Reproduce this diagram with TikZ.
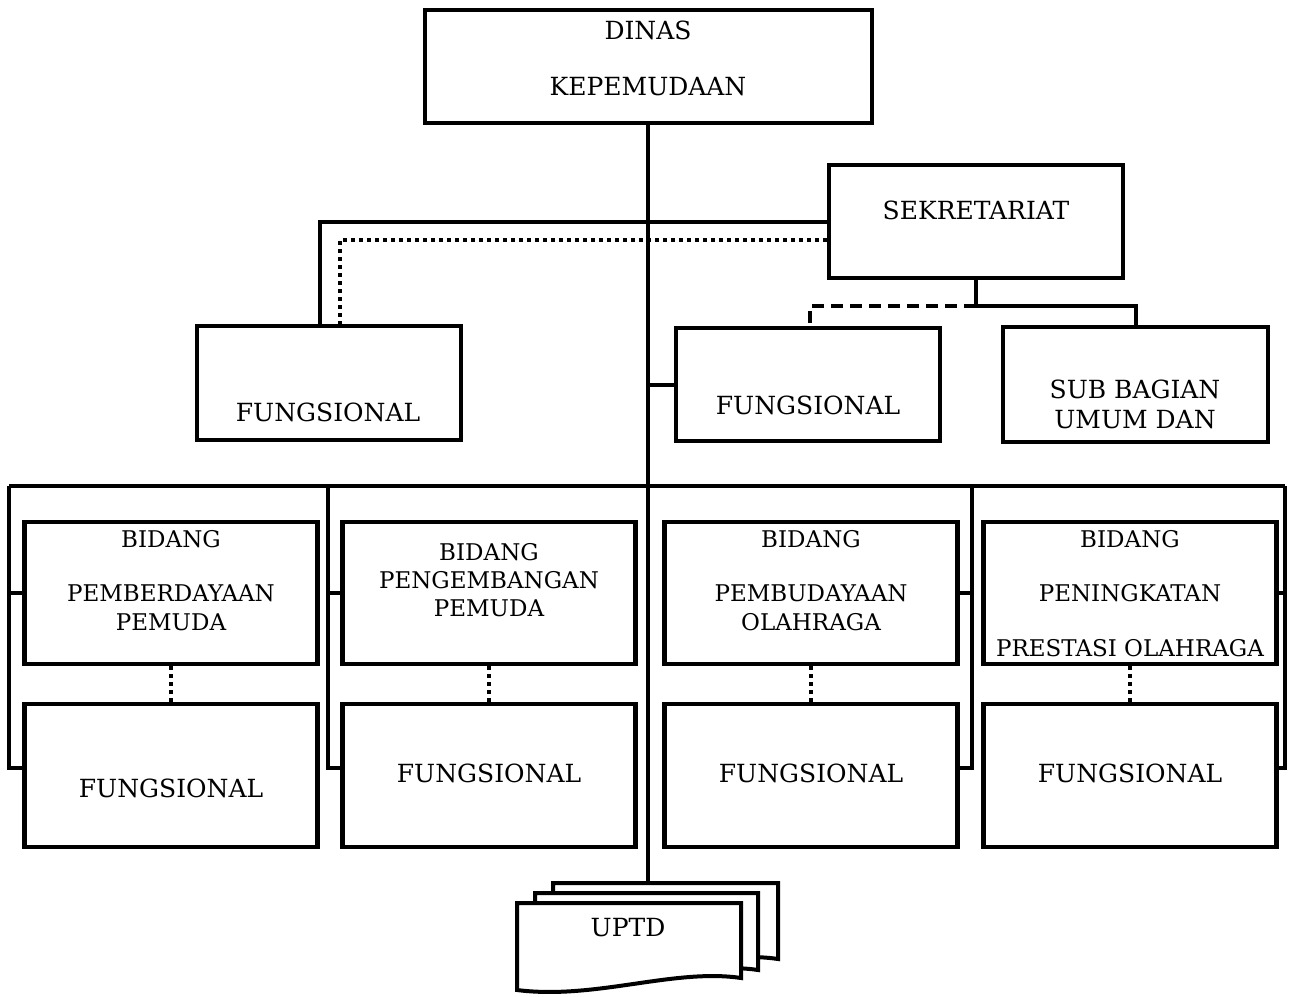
\documentclass[tikz,border=0pt]{standalone}
\usepackage{fontspec}
\setmainfont{DejaVu Serif}
\begin{document}
\begin{tikzpicture}[x=1pt,y=-1pt,
  box/.style={draw, line width=4.5pt, inner sep=0pt},
  ln/.style={line width=4pt},
  dotln/.style={line width=4pt, dash pattern=on 4pt off 4pt},
  dashln/.style={line width=4pt, dash pattern=on 12pt off 7pt},
  big/.style={font=\fontsize{25}{30}\selectfont, inner sep=0pt},
  sml/.style={font=\fontsize{23}{28}\selectfont, inner sep=0pt},
  card/.style={draw, fill=white, line width=4pt, line join=miter}]
\useasboundingbox (0,0) rectangle (1293,996);

% boxes
\node[box, minimum width=447pt, minimum height=113pt] (dinas) at (648.5,66.5) {};
\node[box, minimum width=294pt, minimum height=113pt] (sek) at (976,221.5) {};
\node[box, minimum width=264pt, minimum height=114pt] (fungL) at (329,383) {};
\node[box, minimum width=264pt, minimum height=113pt] (fungM) at (808,384.5) {};
\node[box, minimum width=265pt, minimum height=115pt] (sub) at (1135.5,384.5) {};
\foreach \n/\cx in {1/171,2/489,3/811,4/1130}{
  \node[box, minimum width=293pt, minimum height=142pt] (b\n) at (\cx,593) {};
  \node[box, minimum width=293pt, minimum height=143pt] (f\n) at (\cx,775.5) {};
}

% coordinates
\coordinate (uptdtop) at (648,883);
\coordinate (sj) at (976,306);
\coordinate (v1) at (9,486);
\coordinate (v2) at (328,486);
\coordinate (v3) at (972,486);
\coordinate (v4) at (1285,486);

% connectors
\draw[ln] (dinas.south -| uptdtop) -- (uptdtop);
\draw[ln] (sek.west) -| ([xshift=-9pt]fungL.north);
\draw[dotln] ([yshift=-18.5pt]sek.west) -| ([xshift=11pt]fungL.north);
\draw[ln] (sek.south) -- (sj) -| (sub.north);
\draw[dashln] (sj) -| ([xshift=2pt]fungM.north);
\draw[ln] (fungM.west) -- (fungM.west -| uptdtop);
\draw[ln] (v1) -- (v4);
\draw[ln] (v1) |- ([yshift=7.5pt]f1.west);
\draw[ln] (b1.west) -- (b1.west -| v1);
\draw[ln] (v2) |- ([yshift=7.5pt]f2.west);
\draw[ln] (b2.west) -- (b2.west -| v2);
\draw[ln] (v3) |- ([yshift=7.5pt]f3.east);
\draw[ln] (b3.east) -- (b3.east -| v3);
\draw[ln] (v4) |- ([yshift=7.5pt]f4.east);
\draw[ln] (b4.east) -- (b4.east -| v4);
\foreach \n in {1,2,3,4}{
  \draw[dotln] (b\n.south) -- (f\n.north);
}

% UPTD cards
\draw[card] (553,883) -- (778,883) -- (778,959)
  .. controls (711,949) and (632,981) .. (553,971) -- cycle;
\draw[card] (535,893) -- (758,893) -- (758,970)
  .. controls (691,960) and (613,992) .. (535,982) -- cycle;
\draw[card] (517,903) -- (741,903) -- (741,978)
  .. controls (674,968) and (595,1000) .. (517,990) -- cycle;

% texts
\node[big] (t1) at (648,30) {DINAS};
\node[big] (t2) at (648,87) {KEPEMUDAAN};
\node[big] (t3) at (976,210) {SEKRETARIAT};
\node[big] (t4) at (328,412) {FUNGSIONAL};
\node[big] (t5) at (808,405) {FUNGSIONAL};
\node[big] (t6) at (1135,389) {SUB BAGIAN};
\node[big] (t7) at (1135,420) {UMUM DAN};
\node[sml] (t8) at (171,539) {BIDANG};
\node[sml] (t9) at (171,593) {PEMBERDAYAAN};
\node[sml] (t10) at (171,622) {PEMUDA};
\node[sml] (t11) at (489,552) {BIDANG};
\node[sml] (t12) at (489,580) {PENGEMBANGAN};
\node[sml] (t13) at (489,608) {PEMUDA};
\node[sml] (t14) at (811,539) {BIDANG};
\node[sml] (t15) at (811,593) {PEMBUDAYAAN};
\node[sml] (t16) at (811,622) {OLAHRAGA};
\node[sml] (t17) at (1130,539) {BIDANG};
\node[sml] (t18) at (1130,593) {PENINGKATAN};
\node[sml] (t19) at (1130,648) {PRESTASI OLAHRAGA};
\node[big] (t20) at (171,788) {FUNGSIONAL};
\node[big] (t21) at (489,773) {FUNGSIONAL};
\node[big] (t22) at (811,773) {FUNGSIONAL};
\node[big] (t23) at (1130,773) {FUNGSIONAL};
\node[big] (t24) at (628,928) {UPTD};
\end{tikzpicture}
\end{document}
